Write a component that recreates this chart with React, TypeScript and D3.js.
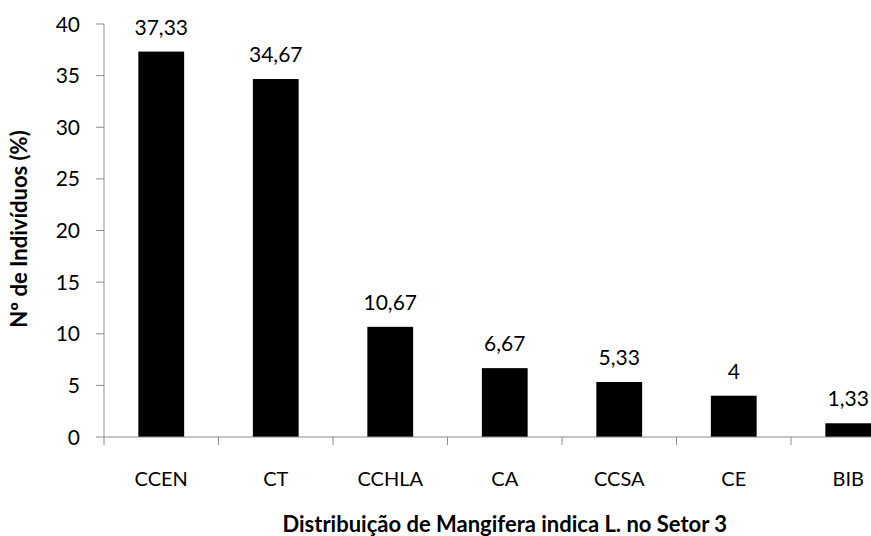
import React from "react";
import * as d3 from "d3";

const categories = ["CCEN", "CT", "CCHLA", "CA", "CCSA", "CE", "BIB"];
const values = [37.33, 34.67, 10.67, 6.67, 5.33, 4, 1.33];
const valueLabels = ["37,33", "34,67", "10,67", "6,67", "5,33", "4", "1,33"];
const yTicks = [0, 5, 10, 15, 20, 25, 30, 35, 40];
const xTitle = "Distribuição de Mangifera indica L. no Setor 3";
const yTitle = "Nº de Indivíduos (%)";

const W = 871;
const H = 536;
const FONT = "Lato, 'Open Sans', sans-serif";

export default function App() {
  const left = 104;
  const right = 905.5;
  const top = 24;
  const bottom = 437;
  const x = d3.scaleBand<string>().domain(categories).range([left, right]).paddingInner(0.6).paddingOuter(0.3);
  const xTickScale = d3.scaleLinear().domain([0, categories.length]).range([left, right]);
  const y = d3.scaleLinear().domain([0, 40]).range([bottom, top]);
  const axisColor = "#8c8c8c";

  return (
    <svg width={W} height={H} style={{ position: "absolute", left: 0, top: 0, background: "#fff" }}>
      {values.map((v, i) => (
        <rect key={i} x={x(categories[i])} y={y(v)} width={x.bandwidth()} height={y(0) - y(v)} fill="#000" />
      ))}
      <line x1={left} x2={left} y1={top} y2={bottom} stroke={axisColor} strokeWidth={1} />
      {yTicks.map((t) => (
        <g key={t}>
          <line x1={left - 8} x2={left} y1={y(t)} y2={y(t)} stroke={axisColor} />
          <text x={80} y={y(t)} dy="0.36em" textAnchor="end" fontFamily={FONT} fontSize={21} fill="#000">
            {t}
          </text>
        </g>
      ))}
      <line x1={left} x2={right} y1={bottom} y2={bottom} stroke={axisColor} />
      {d3.range(categories.length + 1).map((i) => (
        <line key={i} x1={xTickScale(i)} x2={xTickScale(i)} y1={bottom} y2={bottom + 8} stroke={axisColor} />
      ))}
      {categories.map((c) => (
        <text key={c} x={(x(c) as number) + x.bandwidth() / 2} y={486} textAnchor="middle" fontFamily={FONT} fontSize={20} fill="#000">
          {c}
        </text>
      ))}
      {values.map((v, i) => (
        <text key={i} x={(x(categories[i]) as number) + x.bandwidth() / 2} y={y(v) - 17} textAnchor="middle" fontFamily={FONT} fontSize={21} fill="#000">
          {valueLabels[i]}
        </text>
      ))}
      <text x={(left + right) / 2} y={532} textAnchor="middle" fontFamily={FONT} fontSize={22} fontWeight="bold" fill="#000">
        {xTitle}
      </text>
      <text transform={`translate(27,${229}) rotate(-90)`} textAnchor="middle" fontFamily={FONT} fontSize={22} fontWeight="bold" fill="#000">
        {yTitle}
      </text>
    </svg>
  );
}
